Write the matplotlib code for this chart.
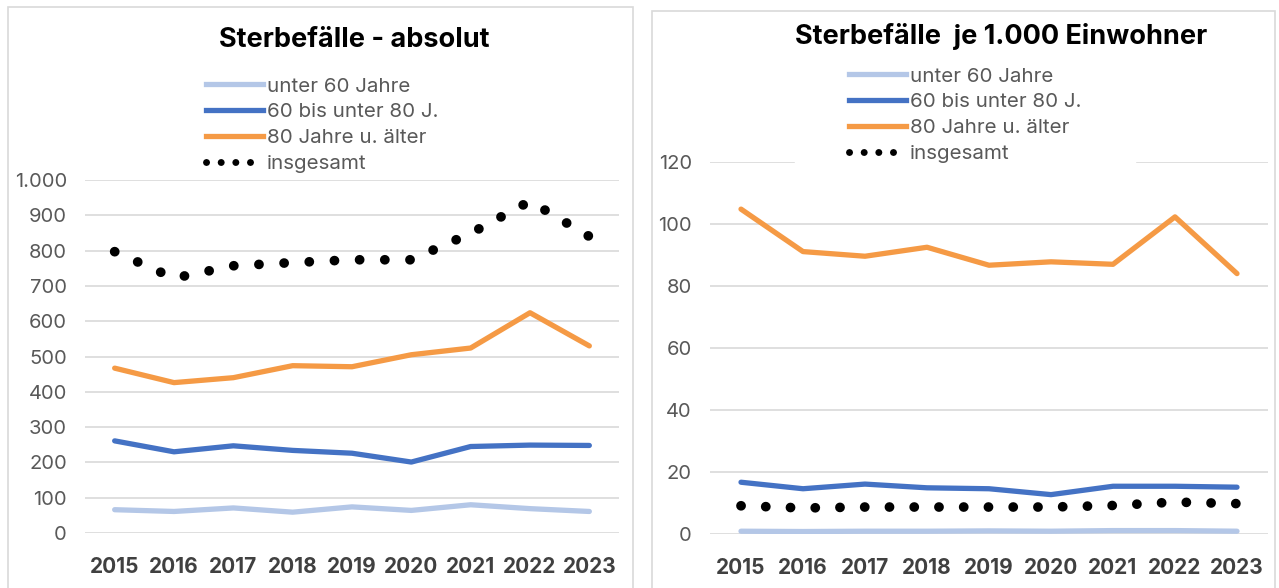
import numpy as np
import matplotlib.pyplot as plt
from matplotlib.patches import Rectangle
from matplotlib.lines import Line2D
from matplotlib.ticker import FuncFormatter

plt.rcParams['font.family'] = ['Inter', 'DejaVu Sans']

jahre = ['2015', '2016', '2017', '2018', '2019', '2020', '2021', '2022', '2023']

# Sterbefaelle absolut
abs_u60 = [66, 61, 71, 59, 74, 64, 80, 69, 61]
abs_60_80 = [261, 230, 247, 234, 226, 201, 245, 249, 248]
abs_80 = [467, 426, 440, 474, 471, 505, 524, 624, 530]
abs_ges = [797, 722, 757, 766, 774, 774, 849, 940, 840]

# Sterbefaelle je 1.000 Einwohner
je_u60 = [0.9, 0.8, 0.9, 0.9, 1.0, 0.9, 1.1, 1.1, 0.9]
je_60_80 = [16.7, 14.6, 16.1, 14.9, 14.6, 12.7, 15.4, 15.4, 15.1]
je_80 = [104.8, 91.1, 89.6, 92.5, 86.7, 87.8, 87.0, 102.3, 84.0]
je_ges = [9.1, 8.4, 8.7, 8.7, 8.7, 8.7, 9.2, 10.3, 9.8]

namen = ['unter 60 Jahre', '60 bis unter 80 J.', '80 Jahre u. älter', 'insgesamt']
farben = ['#b4c7e7', '#4472c4', '#f59a45', 'black']

grau = '#595959'
gitter = '#d9d9d9'

fig = plt.figure(figsize=(12.79, 5.88), dpi=100)

# Rahmen der beiden Diagramme
fig.patches.append(Rectangle((8 / 1279, -0.1), 625 / 1279, 1.1 - 7 / 588, transform=fig.transFigure,
                             fill=False, edgecolor=gitter, lw=1.2))
fig.patches.append(Rectangle((652 / 1279, -0.1), 623 / 1279, 1.1 - 11 / 588, transform=fig.transFigure,
                             fill=False, edgecolor=gitter, lw=1.2))

ax1 = fig.add_axes([85 / 1279, 1 - 533 / 588, 534 / 1279, 353 / 588])
ax2 = fig.add_axes([710 / 1279, 1 - 534 / 588, 558 / 1279, 372 / 588])


def zeichnen(ax, u60, m, a80, ges, ymax):
    x = np.arange(len(jahre))
    ax.set_xlim(-0.5, len(jahre) - 0.5)
    ax.set_ylim(0, ymax)
    ax.plot(x, u60, color=farben[0], lw=3.8, solid_capstyle='round', zorder=3)
    ax.plot(x, m, color=farben[1], lw=3.8, solid_capstyle='round', zorder=3)
    ax.plot(x, a80, color=farben[2], lw=3.8, solid_capstyle='round', zorder=3)
    # Punktabstand so waehlen, dass an beiden Enden ein Punkt sitzt
    lw = 7
    xy = ax.transData.transform(np.column_stack([x, ges]))
    laenge = np.sum(np.hypot(*np.diff(xy, axis=0).T))
    n = max(1, round(laenge / 25))
    periode = laenge / (n + 0.05) * 72 / fig.dpi
    ax.plot(x, ges, color=farben[3], lw=lw, linestyle=(0, (0.01, periode / lw - 0.01)),
            dash_capstyle='round', zorder=4)
    ax.set_xticks(x)
    ax.set_xticklabels(jahre, fontsize=15, fontweight='bold', color='#404040')
    for s in ax.spines.values():
        s.set_visible(False)
    ax.grid(axis='y', color=gitter, lw=1.2)
    ax.set_axisbelow(True)
    ax.tick_params(axis='both', length=0)
    ax.tick_params(axis='y', labelsize=14.5, labelcolor=grau, pad=13)
    ax.tick_params(axis='x', pad=17)


# Legenden-Symbole (Punkte enger als im Diagramm)
griffe = [Line2D([], [], color=farben[0], lw=3.8),
          Line2D([], [], color=farben[1], lw=3.8),
          Line2D([], [], color=farben[2], lw=3.8),
          Line2D([], [], color=farben[3], lw=5, linestyle=(0, (0.01, 2.1)), dash_capstyle='round')]

zeichnen(ax1, abs_u60, abs_60_80, abs_80, abs_ges, 1000)
ax1.set_yticks(range(0, 1001, 100))
ax1.yaxis.set_major_formatter(FuncFormatter(lambda v, p: f'{int(v):,}'.replace(',', '.')))

zeichnen(ax2, je_u60, je_60_80, je_80, je_ges, 120)
ax2.set_yticks(range(0, 121, 20))

leg1 = ax1.legend(griffe, namen, loc='center', bbox_to_anchor=(322 / 1279, 1 - 125 / 588),
                  bbox_transform=fig.transFigure, frameon=False, fontsize=14.8, handlelength=2.8,
                  handletextpad=0.15, labelspacing=0.36)
leg2 = ax2.legend(griffe, namen, loc='center', bbox_to_anchor=(965 / 1279, 1 - 115 / 588),
                  bbox_transform=fig.transFigure, frameon=True, fancybox=False, facecolor='white',
                  edgecolor='white', framealpha=1, borderpad=2.6, fontsize=14.8, handlelength=2.8,
                  handletextpad=0.15, labelspacing=0.36)
for leg in (leg1, leg2):
    for t in leg.get_texts():
        t.set_color(grau)

fig.text(354 / 1279, 1 - 40 / 588, 'Sterbefälle - absolut', ha='center', va='center',
         fontsize=19.5, fontweight='bold', color='black')
fig.text(1001 / 1279, 1 - 37 / 588, 'Sterbefälle  je 1.000 Einwohner', ha='center', va='center',
         fontsize=19.5, fontweight='bold', color='black')

fig.savefig('out.png', dpi=100, facecolor='white')
